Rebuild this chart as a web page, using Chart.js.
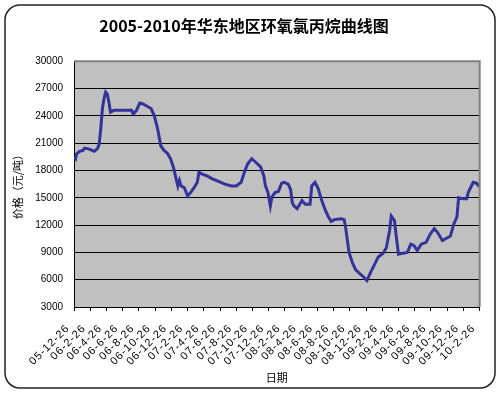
<!DOCTYPE html>
<html>
<head>
<meta charset="utf-8">
<script src="https://cdn.jsdelivr.net/npm/chart.js@4.4.0/dist/chart.umd.min.js"></script>
<style>
  html, body { margin: 0; padding: 0; background: #fff; }
</style>
</head>
<body>
<canvas id="myChart" width="500" height="394"></canvas>
<script>
// x tick labels, one every 2 months starting 05-12-26
var tickLabels = ['05-12-26', '06-2-26', '06-4-26', '06-6-26', '06-8-26', '06-10-26', '06-12-26',
  '07-2-26', '07-4-26', '07-6-26', '07-8-26', '07-10-26', '07-12-26',
  '08-2-26', '08-4-26', '08-6-26', '08-8-26', '08-10-26', '08-12-26',
  '09-2-26', '09-4-26', '09-6-26', '09-8-26', '09-10-26', '09-12-26', '10-2-26'];

// months after 05-12-26
var months = [0, 0.2, 0.3, 0.7, 1.1, 1.3, 1.7, 2.1, 2.5, 2.9,
  3.1, 3.3, 3.5, 3.7, 3.9, 4.1, 4.3, 4.5, 4.9, 7.1,
  7.3, 7.7, 8.1, 8.5, 8.9, 9.5, 9.9, 10.3, 10.7, 11.1,
  11.5, 11.9, 12.3, 12.5, 12.8, 13.0, 13.2, 13.6, 14.0, 14.4,
  14.8, 15.2, 15.4, 15.8, 16.4, 17.0, 17.8, 18.6, 19.4, 20.0,
  20.6, 21.0, 21.4, 21.9, 22.4, 23.0, 23.4, 23.6, 23.9, 24.2,
  24.4, 24.8, 25.2, 25.6, 25.9, 26.4, 26.7, 26.9, 27.1, 27.5,
  27.9, 28.1, 28.5, 29.1, 29.3, 29.7, 30.1, 30.5, 30.9, 31.3,
  31.7, 32.1, 32.9, 33.3, 33.5, 33.9, 34.3, 34.7, 35.3, 35.7,
  36.1, 36.5, 36.9, 37.5, 38.1, 38.5, 38.9, 39.1, 39.5, 39.7,
  40.0, 40.5, 41.1, 41.5, 41.9, 42.3, 42.8, 43.4, 43.9, 44.4,
  44.8, 45.4, 45.8, 46.4, 46.8, 47.2, 47.4, 48.0, 48.4, 48.6,
  49.2, 49.6, 50.0];

// price, yuan per ton
var prices = [19500, 19300, 19800, 20100, 20200, 20450, 20400, 20250, 20100, 20400,
  20900, 22600, 24800, 25900, 26600, 26400, 25500, 24400, 24600, 24600,
  24200, 24600, 25400, 25300, 25100, 24800, 24000, 22600, 20700, 20200,
  19900, 19300, 18200, 17400, 16300, 16900, 16300, 16100, 15200, 15600,
  16100, 16700, 17800, 17600, 17400, 17100, 16800, 16500, 16300, 16300,
  16700, 17800, 18700, 19300, 18900, 18400, 17400, 16300, 15600, 14100,
  15100, 15600, 15700, 16600, 16700, 16500, 15900, 14500, 14100, 13800,
  14400, 14700, 14300, 14300, 16300, 16700, 16000, 14800, 13800, 13000,
  12400, 12600, 12700, 12600, 11600, 9000, 7900, 7100, 6600, 6300,
  5900, 6700, 7400, 8500, 8900, 9500, 11400, 13000, 12500, 10900,
  8800, 8900, 9000, 9900, 9750, 9200, 9900, 10100, 11000, 11600,
  11200, 10300, 10500, 10800, 12100, 12900, 15000, 14900, 14900, 15600,
  16700, 16600, 16200];

var points = months.map(function (m, i) { return {x: m, y: prices[i]}; });

var cjk = "'Noto Sans CJK SC', sans-serif";
var latin = "'Liberation Sans', Arial, sans-serif";

// grey plot area, rounded frame round the whole chart
var frame = {
  id: 'frame',
  beforeDraw: function (chart) {
    var c = chart.ctx, a = chart.chartArea;
    c.save();
    c.fillStyle = '#fff';
    c.fillRect(0, 0, chart.width, chart.height);
    c.fillStyle = '#c0c0c0';
    c.fillRect(a.left, a.top, a.right - a.left, a.bottom - a.top);
    c.restore();
  },
  afterDraw: function (chart) {
    var c = chart.ctx, a = chart.chartArea;
    c.save();
    c.strokeStyle = '#808080';
    c.lineWidth = 2;
    c.beginPath();
    c.moveTo(a.left, a.top);
    c.lineTo(a.right, a.top);
    c.lineTo(a.right, a.bottom);
    c.stroke();
    c.strokeStyle = '#222';
    c.lineWidth = 1.5;
    c.beginPath();
    c.roundRect(5, 5, 490, 383, 15);
    c.stroke();
    c.restore();
  }
};

// the date labels are drawn with a little letter spacing
function spaceLabels(s) {
  if (s._spaced) return;
  var orig = s.drawLabels;
  s.drawLabels = function (area) {
    this.ctx.save();
    this.ctx.letterSpacing = '1px';
    orig.call(this, area);
    this.ctx.restore();
  };
  s._spaced = true;
}

var ctx = document.getElementById('myChart').getContext('2d');
var myChart = new Chart(ctx, {
  type: 'line',
  data: {
    datasets: [{
      data: points,
      borderColor: '#333399',
      borderWidth: 3,
      pointRadius: 0,
      tension: 0,
      fill: false
    }]
  },
  options: {
    responsive: false,
    animation: false,
    layout: { padding: { left: 0, right: 12, top: 0, bottom: 0 } },
    plugins: {
      legend: { display: false },
      tooltip: { enabled: false },
      title: {
        display: true,
        text: '2005-2010年华东地区环氧氯丙烷曲线图',
        color: '#000',
        font: { family: cjk, size: 16, weight: 'bold', lineHeight: 1.2 },
        padding: { top: 16, bottom: 26 }
      }
    },
    scales: {
      x: {
        type: 'linear',
        min: 0,
        max: 50,
        ticks: {
          stepSize: 2,
          autoSkip: false,
          minRotation: 45,
          maxRotation: 45,
          padding: 11,
          labelOffset: -6,
          color: '#000',
          font: { family: latin, size: 11 },
          callback: function (v) { return tickLabels[Math.round(v / 2)]; }
        },
        grid: { drawOnChartArea: false, drawTicks: true, tickLength: 4, color: '#000' },
        border: { color: '#000', width: 1 },
        title: {
          display: true,
          text: '日期',
          color: '#000',
          font: { family: cjk, size: 11, lineHeight: 1.2 },
          padding: { top: 0, bottom: 10 }
        },
        afterFit: function (s) { s.height = 394 - 307; },
        afterUpdate: spaceLabels
      },
      y: {
        min: 3000,
        max: 30000,
        ticks: {
          stepSize: 3000,
          padding: 11,
          color: '#000',
          font: { family: latin, size: 10 },
          callback: function (v) { return String(v); }
        },
        grid: { color: '#000', drawTicks: false },
        border: { color: '#000', width: 1 },
        title: {
          display: true,
          text: '价格（元/吨）',
          color: '#000',
          font: { family: cjk, size: 11, lineHeight: 1.2 },
          padding: { top: 11, bottom: 0 }
        },
        afterFit: function (s) { s.width = 74; }
      }
    }
  },
  plugins: [frame]
});
</script>
</body>
</html>
